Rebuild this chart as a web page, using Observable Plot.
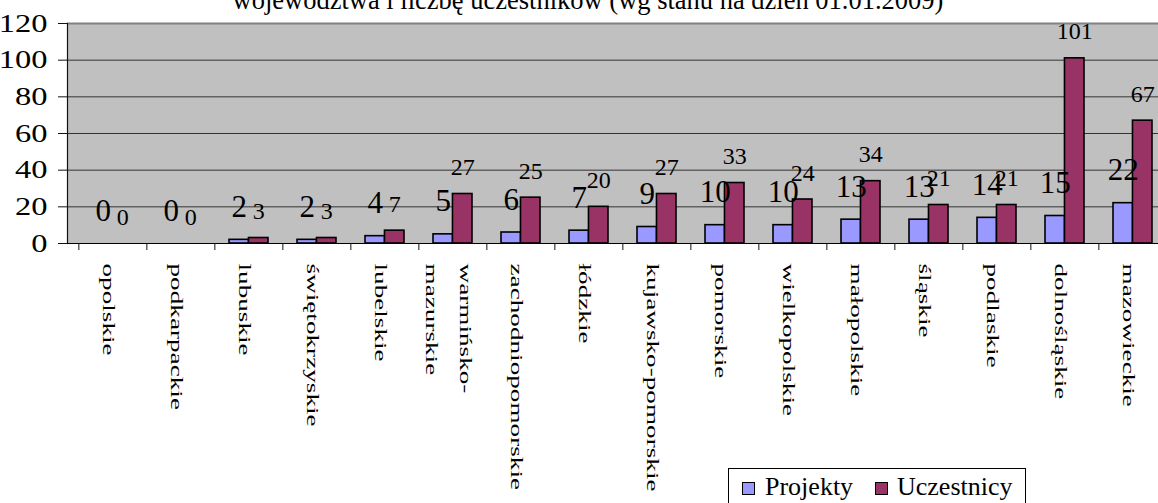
<!DOCTYPE html>
<html><head><meta charset="utf-8">
<script src="https://cdn.jsdelivr.net/npm/d3@7"></script>
<script src="https://cdn.jsdelivr.net/npm/@observablehq/plot@0.6"></script>
<style>
html,body{margin:0;padding:0;overflow:hidden;background:#fff;width:1158px;height:503px}
#wrap{position:relative;width:1158px;height:503px;overflow:hidden}
#title{position:absolute;top:-13px;left:588px;transform:translateX(-50%);white-space:nowrap;font-family:'Liberation Serif';font-size:26.5px;line-height:1;color:#000}
#legend{position:absolute;left:728px;top:468px;width:298px;height:45px;box-sizing:border-box;border:1px solid #000;background:#fff;font-family:'Liberation Serif'}
#legend .sw{position:absolute;top:13px;width:13px;height:13px;box-sizing:border-box;border:1.5px solid #000}
#legend .lt{position:absolute;top:5px;font-size:26px;line-height:26px;white-space:nowrap;color:#000}
</style></head><body>
<div id="wrap"><div id="chart"></div><div id="title"></div><div id="legend"></div></div>
<script>
const titleText = "województwa i liczbę uczestników (wg stanu na dzień 01.01.2009)";
const categories = ["opolskie", "podkarpackie", "lubuskie", "świętokrzyskie", "lubelskie", "warmińsko-\nmazurskie", "zachodniopomorskie", "łódzkie", "kujawsko-pomorskie", "pomorskie", "wielkopolskie", "małopolskie", "śląskie", "podlaskie", "dolnośląskie", "mazowieckie"];
const projekty = [0, 0, 2, 2, 4, 5, 6, 7, 9, 10, 10, 13, 13, 14, 15, 22];
const uczestnicy = [0, 0, 3, 3, 7, 27, 25, 20, 27, 33, 24, 34, 21, 21, 101, 67];
const seriesNames = ["Projekty", "Uczestnicy"];
const seriesColors = ["#9999ff", "#993366"];
const yTicks = [0, 20, 40, 60, 80, 100, 120];

const W = 1158, H = 503, mL = 67, mR = -11, mT = 23, mB = 260, inL = 9;
const pInner = 0.43;
const step = (W - mL - mR - inL) / categories.length;
const bw = step * (1 - pInner);

const rows = categories.map((c, i) => ({cat: c, p: projekty[i], u: uczestnicy[i]}));
const font = "Liberation Serif";

const plot = Plot.plot({
  width: W, height: H,
  marginLeft: mL, marginRight: mR, marginTop: mT, marginBottom: mB,
  style: {fontFamily: font, fontSize: "25px", color: "#000", background: "#fff"},
  x: {type: "band", domain: categories, paddingInner: pInner, paddingOuter: pInner / 2, insetLeft: inL, axis: null},
  y: {domain: [0, 120], axis: null},
  marks: [
    Plot.frame({fill: "#c0c0c0", stroke: "none"}),
    Plot.gridY(yTicks.filter(t => t > 0 && t < 120), {stroke: "#333", strokeOpacity: 1, strokeWidth: 1}),
    Plot.ruleY([120], {stroke: "#808080", strokeWidth: 2}),
    Plot.frame({anchor: "left", stroke: "#111", strokeWidth: 1.2}),
    Plot.axisY({ticks: yTicks, tickSize: 9, tickPadding: 11, fontSize: 25, stroke: "#111", label: null}),
    Plot.barY(rows, {x: "cat", y: "p", fill: seriesColors[0], stroke: "#000", strokeWidth: 1.6, insetRight: bw / 2}),
    Plot.barY(rows, {x: "cat", y: "u", fill: seriesColors[1], stroke: "#000", strokeWidth: 1.6, insetLeft: bw / 2}),
    Plot.ruleY([0], {stroke: "#000", strokeWidth: 1.2}),
    Plot.axisX({ticks: categories, tickSize: 7, tickFormat: () => "", dx: -step / 2, stroke: "#111", label: null}),
    Plot.text(rows, {x: "cat", y: "p", text: "p", dx: -bw / 4, dy: -23, lineAnchor: "bottom", fontSize: 31, fill: "#000"}),
    Plot.text(rows, {x: "cat", y: "u", text: "u", dx: bw / 4, dy: -19, lineAnchor: "bottom", fontSize: 24, fill: "#000"}),
    Plot.text(categories, {x: d => d, text: d => d, frameAnchor: "bottom", dy: 20, dx: 1, rotate: 90, textAnchor: "start", lineAnchor: "middle", lineHeight: 2, fontSize: 17, fill: "#000", ariaDescription: "xlabels"})
  ]
});
document.getElementById("chart").appendChild(plot);

plot.querySelectorAll('g[aria-label="y-axis tick label"] text').forEach(t => {
  t.setAttribute("transform", (t.getAttribute("transform") || "") + " scale(1.3,1)");
});
plot.querySelectorAll('g[aria-description="xlabels"] text').forEach(t => {
  t.setAttribute("transform", (t.getAttribute("transform") || "") + " scale(1.6,1)");
});

document.getElementById("title").textContent = titleText;
const lg = document.getElementById("legend");
const swLeft = [13, 146], txLeft = [36, 168];
seriesNames.forEach((n, i) => {
  const s = document.createElement("span"); s.className = "sw"; s.style.left = swLeft[i] + "px"; s.style.background = seriesColors[i]; lg.appendChild(s);
  const t = document.createElement("span"); t.className = "lt"; t.style.left = txLeft[i] + "px"; t.textContent = n; lg.appendChild(t);
});
</script>
</body></html>
